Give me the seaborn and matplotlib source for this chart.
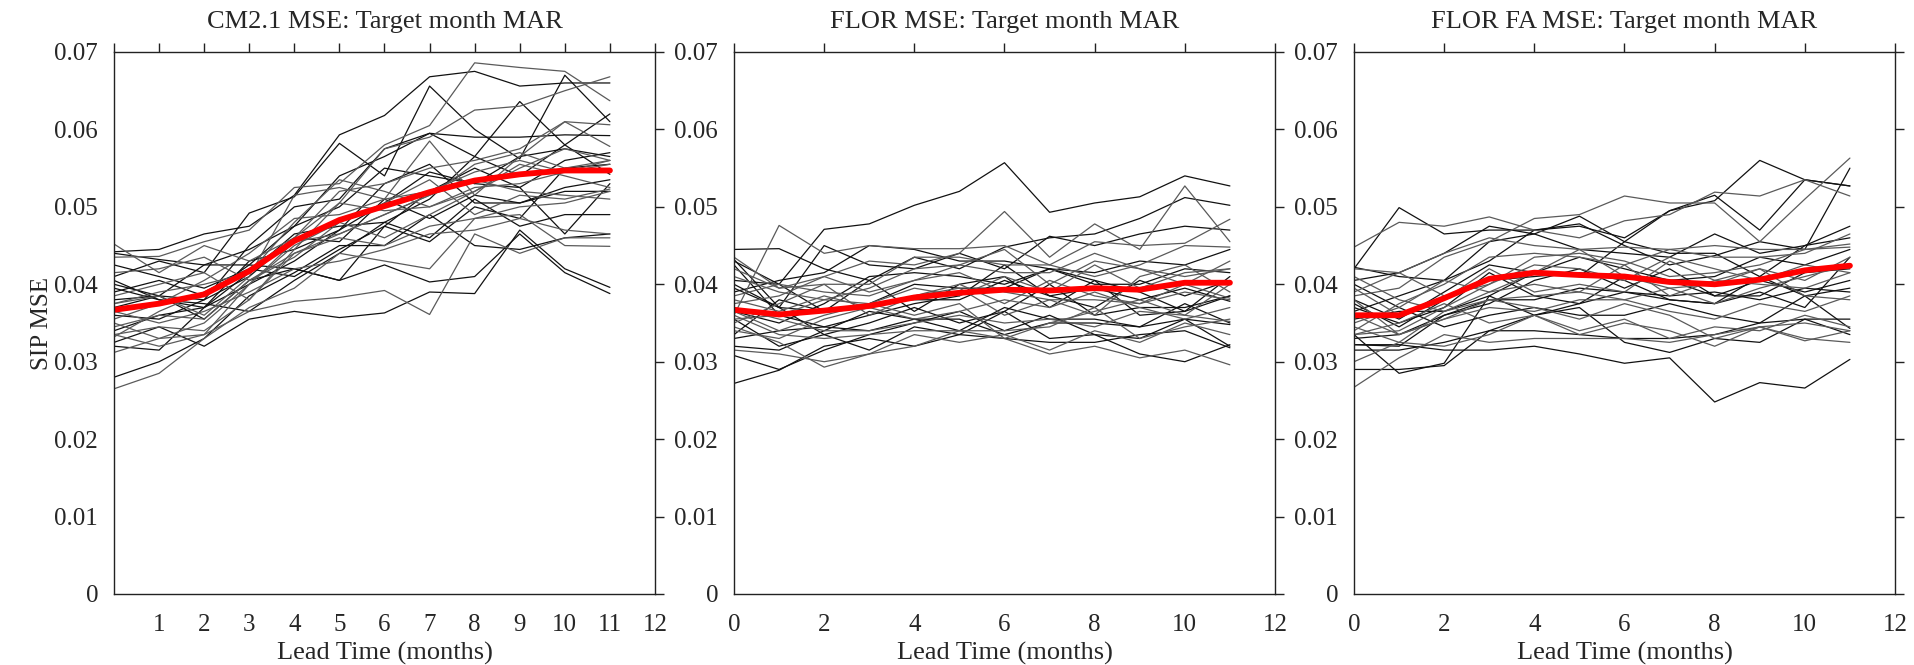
import numpy as np
import pandas as pd
import matplotlib
matplotlib.use("Agg")
import matplotlib.pyplot as plt
import seaborn as sns

# Lead times (months)
leads = list(range(12))

titles = ["CM2.1 MSE: Target month MAR",
          "FLOR MSE: Target month MAR",
          "FLOR FA MSE: Target month MAR"]

# values are in units of 1e-3 (SIP MSE x 1000)
cm21_mean = [36.7, 37.5, 38.7, 41.7, 45.6, 48.3, 50.1, 51.9, 53.4, 54.2, 54.7, 54.7]
flor_mean = [36.7, 36.1, 36.6, 37.2, 38.3, 38.9, 39.3, 39.2, 39.5, 39.3, 40.2, 40.2]
florfa_mean = [36.0, 36.0, 38.2, 40.7, 41.5, 41.2, 41.0, 40.3, 40.0, 40.6, 41.8, 42.4]

cm21_members = [
    [44.2, 44.5, 46.5, 47.5, 51.5, 59.3, 61.8, 66.8, 67.5, 65.6, 66.0, 66.0],
    [43.5, 43.6, 45.5, 47.0, 52.5, 53.0, 58.0, 60.5, 68.6, 68.0, 67.5, 63.7],
    [41.0, 43.0, 41.5, 49.2, 51.3, 58.2, 54.0, 65.6, 60.0, 56.2, 67.0, 61.0],
    [45.2, 41.5, 45.0, 43.0, 46.0, 50.5, 57.5, 59.0, 62.5, 63.0, 65.0, 66.8],
    [40.0, 38.5, 42.5, 44.5, 47.5, 54.0, 56.5, 59.5, 56.5, 63.6, 58.0, 62.0],
    [37.5, 38.5, 36.0, 41.0, 51.5, 52.5, 51.0, 58.5, 51.5, 56.5, 61.0, 60.6],
    [36.0, 35.5, 38.0, 45.0, 50.0, 51.0, 57.5, 59.5, 59.0, 59.0, 59.3, 59.2],
    [33.2, 36.5, 39.0, 42.0, 46.0, 52.0, 53.0, 55.0, 56.0, 57.5, 61.0, 57.8],
    [39.5, 38.0, 37.0, 40.0, 43.0, 47.0, 50.5, 54.5, 53.0, 56.5, 57.5, 56.5],
    [34.5, 36.0, 35.5, 40.5, 44.0, 46.5, 49.0, 51.5, 55.5, 57.0, 55.0, 56.0],
    [32.0, 31.5, 37.0, 41.5, 46.5, 47.5, 48.0, 51.0, 56.5, 54.0, 58.0, 54.2],
    [38.5, 40.0, 41.5, 38.0, 44.5, 50.5, 49.5, 50.0, 52.5, 53.0, 54.5, 56.0],
    [44.0, 43.2, 42.5, 42.5, 42.0, 40.5, 47.5, 52.0, 55.0, 52.5, 46.5, 53.0],
    [35.0, 33.0, 33.5, 40.0, 45.0, 48.0, 46.0, 49.0, 52.0, 55.5, 54.0, 52.5],
    [37.0, 38.5, 38.0, 41.0, 46.0, 45.5, 51.0, 48.5, 51.5, 50.5, 52.0, 52.0],
    [31.2, 33.0, 35.0, 40.0, 45.5, 46.5, 49.0, 51.5, 53.5, 52.0, 51.5, 51.0],
    [42.5, 41.0, 39.5, 42.0, 41.0, 44.5, 47.5, 45.5, 50.0, 48.5, 55.0, 55.5],
    [33.5, 34.5, 34.0, 38.0, 44.0, 46.0, 45.0, 47.5, 48.5, 50.0, 50.5, 52.0],
    [40.5, 38.0, 37.5, 36.5, 40.5, 44.0, 48.0, 46.0, 51.0, 47.5, 49.0, 49.0],
    [36.5, 35.0, 36.5, 39.0, 42.0, 43.0, 44.5, 46.5, 47.0, 48.5, 47.0, 46.5],
    [28.0, 30.0, 33.0, 38.5, 41.5, 45.0, 45.0, 49.0, 45.0, 44.5, 46.0, 46.5],
    [26.5, 28.5, 33.0, 37.0, 39.5, 44.0, 43.0, 42.0, 48.5, 49.0, 45.0, 44.9],
    [38.0, 38.5, 35.5, 40.5, 42.0, 40.5, 42.5, 40.3, 41.0, 46.5, 41.5, 38.8],
    [33.5, 32.0, 33.5, 36.5, 37.8, 38.3, 39.2, 36.1, 46.5, 44.0, 46.0, 46.0],
    [32.5, 34.5, 32.0, 35.5, 36.5, 35.7, 36.3, 39.0, 38.8, 47.0, 42.0, 39.6],
    [41.5, 42.0, 43.5, 40.5, 43.5, 48.0, 50.5, 53.5, 49.0, 51.5, 51.0, 52.3],
    [39.0, 40.5, 38.5, 42.5, 47.5, 50.0, 55.0, 54.0, 53.0, 52.5, 56.0, 57.0],
    [35.5, 37.5, 40.5, 44.0, 48.5, 49.0, 51.0, 52.0, 54.5, 56.0, 54.5, 55.5],
    [34.0, 36.0, 37.0, 43.0, 44.5, 47.0, 53.0, 55.5, 50.5, 50.5, 52.5, 53.5],
    [37.5, 39.0, 40.0, 41.5, 48.0, 53.5, 52.0, 50.0, 52.0, 55.0, 57.5, 56.0],
]

flor_members = [
    [43.0, 40.0, 47.1, 47.8, 50.2, 52.0, 55.7, 49.3, 50.5, 51.3, 54.0, 52.7],
    [42.0, 39.5, 41.0, 43.0, 42.5, 44.0, 49.4, 43.5, 47.8, 44.5, 52.7, 45.5],
    [44.5, 44.6, 42.0, 40.5, 43.5, 42.0, 44.8, 46.0, 46.5, 48.5, 51.2, 50.2],
    [36.0, 47.6, 44.0, 45.0, 44.6, 44.6, 45.0, 42.5, 45.5, 45.0, 45.3, 48.4],
    [40.0, 37.0, 45.0, 42.5, 42.0, 44.0, 42.0, 46.2, 45.0, 46.5, 47.5, 47.0],
    [43.5, 39.5, 40.0, 40.0, 43.5, 43.5, 42.5, 42.5, 41.0, 42.5, 45.0, 44.8],
    [39.0, 40.5, 41.5, 45.0, 44.5, 43.0, 43.0, 42.0, 40.0, 40.0, 42.0, 41.5],
    [41.0, 39.0, 38.0, 39.5, 42.0, 42.5, 44.5, 40.0, 43.0, 42.0, 41.0, 42.0],
    [36.5, 35.0, 37.5, 41.0, 41.5, 41.0, 40.0, 42.0, 40.5, 39.0, 36.5, 41.0],
    [38.5, 40.0, 39.0, 38.5, 40.5, 41.5, 39.0, 38.0, 36.0, 41.0, 42.5, 39.0],
    [33.5, 38.0, 36.5, 37.5, 38.0, 38.0, 40.5, 38.5, 39.5, 38.0, 39.5, 37.8],
    [35.0, 37.5, 40.0, 36.0, 38.5, 40.0, 37.5, 40.5, 38.5, 37.5, 40.0, 38.2],
    [42.5, 36.0, 34.5, 36.0, 37.5, 38.5, 42.5, 38.5, 37.0, 40.5, 38.5, 40.5],
    [34.0, 33.0, 35.5, 37.0, 35.5, 36.5, 38.0, 37.0, 39.0, 37.0, 35.5, 37.0],
    [39.5, 37.0, 33.5, 35.0, 37.0, 35.0, 36.5, 40.0, 36.0, 37.0, 37.0, 38.5],
    [37.0, 35.5, 34.0, 34.0, 35.0, 36.0, 35.0, 35.5, 34.5, 36.5, 36.0, 35.2],
    [33.0, 34.0, 34.5, 34.0, 35.5, 35.5, 33.5, 35.0, 35.0, 34.5, 35.5, 34.8],
    [36.0, 33.5, 33.0, 33.5, 34.0, 34.0, 34.0, 34.5, 37.0, 33.0, 34.5, 35.5],
    [35.5, 32.0, 33.5, 31.5, 34.5, 33.5, 36.5, 33.0, 33.5, 33.0, 35.5, 32.0],
    [31.5, 31.0, 30.0, 31.0, 32.0, 34.0, 33.0, 31.0, 32.0, 30.5, 31.5, 29.6],
    [27.2, 28.9, 32.0, 33.0, 32.0, 33.5, 33.0, 32.5, 32.5, 33.5, 34.0, 31.8],
    [34.5, 32.5, 29.3, 31.0, 33.5, 32.5, 33.5, 31.5, 34.0, 32.5, 35.0, 33.5],
    [30.8, 29.0, 31.5, 33.5, 35.0, 36.5, 34.0, 36.0, 33.5, 31.0, 30.0, 32.2],
    [36.5, 34.0, 36.0, 37.5, 36.0, 37.5, 33.0, 35.0, 36.5, 38.0, 36.0, 40.0],
    [40.5, 40.0, 36.5, 37.5, 40.0, 39.5, 39.5, 42.0, 41.5, 43.0, 42.5, 44.5],
    [37.5, 38.5, 41.0, 39.0, 40.5, 42.5, 41.5, 41.5, 44.0, 42.0, 40.0, 43.0],
    [32.0, 31.5, 34.0, 36.5, 35.5, 34.0, 37.0, 35.5, 35.5, 34.5, 37.5, 35.0],
    [38.0, 36.5, 38.5, 37.0, 38.5, 39.5, 36.0, 38.0, 38.0, 37.5, 39.0, 38.0],
    [43.2, 37.0, 36.5, 40.5, 36.5, 40.0, 41.0, 37.0, 40.5, 36.0, 36.5, 38.5],
    [35.5, 36.0, 38.0, 37.5, 39.5, 38.5, 41.0, 39.0, 42.5, 39.5, 41.5, 42.0],
]

florfa_members = [
    [42.0, 49.9, 46.5, 47.0, 47.0, 47.5, 46.0, 49.5, 51.5, 47.0, 53.5, 52.7],
    [44.8, 48.0, 47.5, 48.7, 47.0, 46.0, 48.2, 49.0, 51.9, 51.4, 53.5, 51.4],
    [40.5, 41.5, 44.0, 47.5, 46.5, 48.8, 45.5, 49.5, 50.8, 56.0, 53.5, 52.7],
    [38.5, 39.5, 43.5, 45.5, 48.5, 49.0, 51.4, 50.5, 50.5, 45.5, 51.0, 56.3],
    [42.2, 41.0, 40.5, 43.0, 47.0, 47.8, 45.0, 42.5, 43.7, 45.5, 44.5, 55.0],
    [39.0, 41.5, 44.0, 46.0, 45.0, 44.5, 44.8, 44.5, 45.0, 44.5, 44.5, 44.8],
    [36.5, 38.5, 40.5, 45.5, 46.5, 44.5, 44.0, 43.5, 46.5, 44.0, 45.0, 47.5],
    [34.0, 37.5, 40.0, 43.5, 44.0, 43.5, 42.5, 44.5, 43.5, 43.5, 44.0, 46.5],
    [38.0, 35.5, 39.0, 42.5, 41.5, 41.0, 45.5, 44.0, 44.0, 41.0, 45.0, 46.0],
    [33.5, 34.0, 37.0, 40.0, 43.5, 44.0, 43.0, 41.0, 41.5, 42.5, 44.5, 45.2],
    [35.5, 36.5, 36.5, 38.5, 41.5, 43.5, 42.0, 40.5, 41.0, 43.5, 42.5, 44.5],
    [39.5, 36.0, 38.0, 42.0, 39.0, 40.0, 39.0, 43.0, 40.5, 42.0, 40.5, 43.5],
    [33.0, 33.5, 36.0, 37.5, 40.5, 42.0, 39.5, 42.0, 38.5, 38.5, 41.5, 42.0],
    [41.0, 38.0, 36.5, 39.0, 40.0, 39.0, 42.5, 38.5, 40.5, 40.0, 39.5, 41.5],
    [37.0, 35.0, 37.0, 41.5, 38.5, 37.5, 41.0, 40.5, 38.5, 40.5, 39.0, 40.5],
    [34.5, 32.5, 36.5, 38.0, 38.5, 39.0, 38.0, 39.5, 37.5, 39.5, 41.0, 42.5],
    [32.2, 32.0, 36.0, 38.0, 38.0, 39.5, 39.0, 38.5, 39.0, 38.0, 39.5, 39.0],
    [36.0, 33.5, 35.5, 37.0, 36.5, 38.0, 38.0, 36.5, 35.5, 37.5, 36.5, 38.5],
    [40.0, 37.0, 34.5, 36.0, 37.0, 36.0, 36.0, 37.5, 36.0, 35.0, 38.5, 34.3],
    [33.5, 35.0, 37.5, 35.0, 36.0, 34.0, 35.5, 33.0, 34.5, 34.0, 36.0, 34.5],
    [31.5, 31.5, 32.5, 34.0, 34.0, 33.5, 33.0, 33.0, 33.5, 35.0, 35.5, 33.5],
    [30.0, 32.5, 32.0, 33.5, 36.0, 33.5, 35.0, 34.0, 32.0, 34.5, 33.0, 32.5],
    [29.0, 29.0, 29.5, 34.0, 36.0, 37.0, 32.5, 31.2, 33.0, 32.5, 35.5, 35.5],
    [26.7, 30.5, 33.5, 32.5, 33.0, 33.0, 33.0, 32.5, 33.5, 34.5, 35.0, 34.0],
    [32.2, 32.2, 31.5, 31.5, 32.0, 31.0, 29.8, 30.5, 24.8, 27.3, 26.6, 30.3],
    [38.0, 33.5, 35.5, 38.0, 37.0, 35.5, 37.5, 36.0, 33.0, 34.5, 32.7, 34.0],
    [33.5, 28.5, 29.8, 38.5, 36.0, 37.5, 39.0, 38.0, 37.5, 41.0, 38.5, 39.5],
    [42.0, 41.5, 38.5, 40.0, 42.5, 42.0, 40.5, 43.5, 42.0, 40.5, 42.5, 41.5],
    [37.5, 34.5, 38.0, 40.5, 41.0, 41.5, 40.5, 38.0, 37.5, 39.0, 37.0, 43.5],
    [35.0, 37.0, 40.5, 39.0, 41.5, 44.5, 41.0, 39.5, 40.0, 42.0, 38.5, 38.0],
]

UNIT = 1e-3

sns.set_theme(style="white")
plt.rcParams['font.family'] = ['Liberation Serif', 'DejaVu Serif']
plt.rcParams['axes.edgecolor'] = '#222222'
plt.rcParams['axes.linewidth'] = 1.0

fig = plt.figure(figsize=(19.15, 6.65), dpi=100)
lefts = [114 / 1915, 734 / 1915, 1354 / 1915]
w = 541 / 1915
b = (665 - 594) / 665
h = 542 / 665

panels = [(cm21_members, cm21_mean), (flor_members, flor_mean), (florfa_members, florfa_mean)]

for i, ((members, mean), title) in enumerate(zip(panels, titles)):
    ax = fig.add_axes([lefts[i], b, w, h])
    rows = []
    for m, vals in enumerate(members):
        for t, v in zip(leads, vals):
            rows.append({"lead": t, "mse": v * UNIT, "member": m, "shade": "k" if m % 2 == 0 else "g"})
    df = pd.DataFrame(rows)
    sns.lineplot(data=df, x="lead", y="mse", units="member", estimator=None,
                 hue="shade", palette={"k": "#111111", "g": "#5a5a5a"},
                 linewidth=0.9, legend=False, ax=ax)
    sns.lineplot(x=leads, y=[v * UNIT for v in mean], color="#ff0000",
                 linewidth=4.2, ax=ax)
    ax.set_xlim(0, 12)
    ax.set_ylim(0, 0.07)
    if i == 0:
        ax.set_xticks(range(0, 13))
        ax.set_xticklabels([""] + [str(k) for k in range(1, 13)])
        ax.set_ylabel("SIP MSE", fontsize=18, labelpad=1)
    else:
        ax.set_xticks(range(0, 13, 2))
        ax.set_xticklabels([str(k) for k in range(0, 13, 2)])
        ax.set_ylabel("")
    ax.set_yticks([0, 0.01, 0.02, 0.03, 0.04, 0.05, 0.06, 0.07])
    ax.set_yticklabels(["0", "0.01", "0.02", "0.03", "0.04", "0.05", "0.06", "0.07"])
    ax.set_xlabel("Lead Time (months)", fontsize=19, labelpad=4)
    ax.set_title(title, fontsize=19, pad=17)
    ax.tick_params(axis='both', which='both', direction='out', length=6.5, width=1,
                   color='#222222', labelsize=18, top=True, right=True,
                   labeltop=False, labelright=False)
    ax.tick_params(axis='x', pad=8)
    ax.tick_params(axis='y', pad=5)
    for s in ax.spines.values():
        s.set_visible(True)
        s.set_color('#222222')

fig.savefig("out.png", dpi=100, facecolor="white")
